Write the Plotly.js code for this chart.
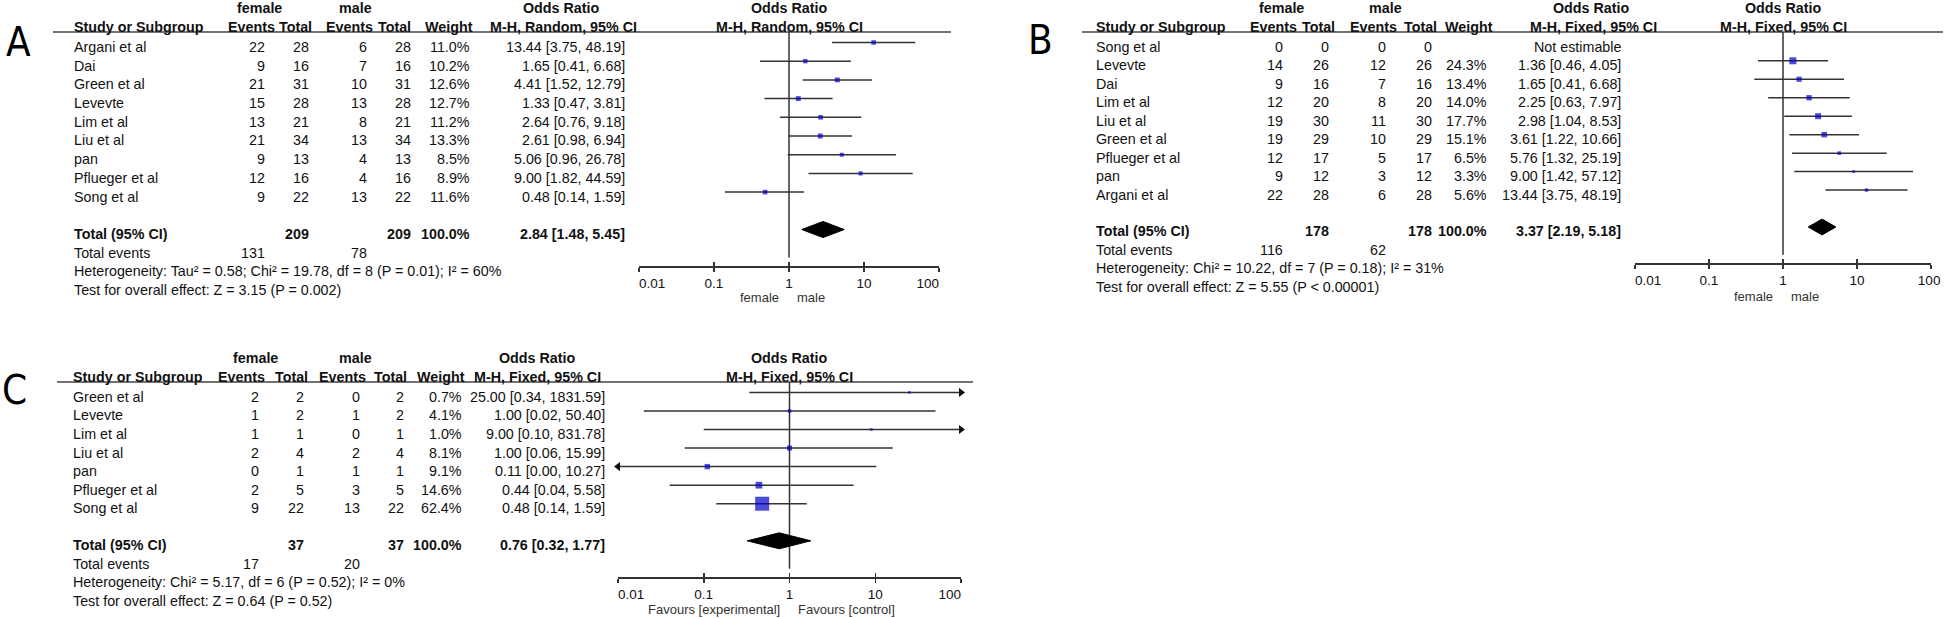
<!DOCTYPE html>
<html>
<head>
<meta charset="utf-8">
<script src="https://cdn.plot.ly/plotly-3.0.1.min.js"></script>
<style>
  html, body { margin: 0; padding: 0; background: #fff; }
  #chart { width: 1946px; height: 618px; }
</style>
</head>
<body>
<div id="chart"></div>
<script>
const W = 1946, H = 618;
const FONT = 'Liberation Sans, Arial, Helvetica, sans-serif';
const LETTER_FONT = 'Liberation Sans Narrow, Arial Narrow, DejaVu Sans Condensed, Liberation Sans, sans-serif';
const INK = '#111';
const LINE = '#333';
const BLUE = '#0000c8';
const SIZE = 14.3;
const NBSP = '\u00a0';

// ---- Panel A: random effects
const studiesA = ['Argani et al', 'Dai', 'Green et al', 'Levevte', 'Lim et al', 'Liu et al', 'pan', 'Pflueger et al', 'Song et al'];
const femaleEventsA = [22, 9, 21, 15, 13, 21, 9, 12, 9];
const femaleTotalA = [28, 16, 31, 28, 21, 34, 13, 16, 22];
const maleEventsA = [6, 7, 10, 13, 8, 13, 4, 4, 13];
const maleTotalA = [28, 16, 31, 28, 21, 34, 13, 16, 22];
const weightA = [11.0, 10.2, 12.6, 12.7, 11.2, 13.3, 8.5, 8.9, 11.6];
const orA = [13.44, 1.65, 4.41, 1.33, 2.64, 2.61, 5.06, 9.00, 0.48];
const lowerA = [3.75, 0.41, 1.52, 0.47, 0.76, 0.98, 0.96, 1.82, 0.14];
const upperA = [48.19, 6.68, 12.79, 3.81, 9.18, 6.94, 26.78, 44.59, 1.59];
const pooledA = [2.84, 1.48, 5.45];
const hetA = 'Heterogeneity: Tau² = 0.58; Chi² = 19.78, df = 8 (P = 0.01); I² = 60%';
const testA = 'Test for overall effect: Z = 3.15 (P = 0.002)';

// ---- Panel B: fixed effects
const studiesB = ['Song et al', 'Levevte', 'Dai', 'Lim et al', 'Liu et al', 'Green et al', 'Pflueger et al', 'pan', 'Argani et al'];
const femaleEventsB = [0, 14, 9, 12, 19, 19, 12, 9, 22];
const femaleTotalB = [0, 26, 16, 20, 30, 29, 17, 12, 28];
const maleEventsB = [0, 12, 7, 8, 11, 10, 5, 3, 6];
const maleTotalB = [0, 26, 16, 20, 30, 29, 17, 12, 28];
const weightB = [null, 24.3, 13.4, 14.0, 17.7, 15.1, 6.5, 3.3, 5.6];
const orB = [null, 1.36, 1.65, 2.25, 2.98, 3.61, 5.76, 9.00, 13.44];
const lowerB = [null, 0.46, 0.41, 0.63, 1.04, 1.22, 1.32, 1.42, 3.75];
const upperB = [null, 4.05, 6.68, 7.97, 8.53, 10.66, 25.19, 57.12, 48.19];
const pooledB = [3.37, 2.19, 5.18];
const hetB = 'Heterogeneity: Chi² = 10.22, df = 7 (P = 0.18); I² = 31%';
const testB = 'Test for overall effect: Z = 5.55 (P < 0.00001)';

// ---- Panel C: fixed effects
const studiesC = ['Green et al', 'Levevte', 'Lim et al', 'Liu et al', 'pan', 'Pflueger et al', 'Song et al'];
const femaleEventsC = [2, 1, 1, 2, 0, 2, 9];
const femaleTotalC = [2, 2, 1, 4, 1, 5, 22];
const maleEventsC = [0, 1, 0, 2, 1, 3, 13];
const maleTotalC = [2, 2, 1, 4, 1, 5, 22];
const weightC = [0.7, 4.1, 1.0, 8.1, 9.1, 14.6, 62.4];
const orC = [25.00, 1.00, 9.00, 1.00, 0.11, 0.44, 0.48];
const lowerC = [0.34, 0.02, 0.10, 0.06, 0.00, 0.04, 0.14];
const upperC = [1831.59, 50.40, 831.78, 15.99, 10.27, 5.58, 1.59];
const pooledC = [0.76, 0.32, 1.77];
const hetC = 'Heterogeneity: Chi² = 5.17, df = 6 (P = 0.52); I² = 0%';
const testC = 'Test for overall effect: Z = 0.64 (P = 0.52)';

const tickValues = [0.01, 0.1, 1, 10, 100];
const tickLabels = ['0.01', '0.1', '1', '10', '100'];
const headerCols = ['Events', 'Total', 'Events', 'Total', 'Weight'];

const panels = [
  {
    letter: 'A', method: 'M-H, Random, 95% CI', left: 'female', right: 'male',
    studies: studiesA, fe: femaleEventsA, ft: femaleTotalA, me: maleEventsA, mt: maleTotalA,
    w: weightA, or: orA, lo: lowerA, hi: upperA, pooled: pooledA, het: hetA, test: testA,
    geo: { letterX: 18, letterY: 42, ruleY: 32, ruleX0: 53, ruleX1: 951, plotX0: 639, plotX1: 939,
           axisY: 266, labelY: 298, studyX: 72, cols: [267, 311, 369, 413, 472, 627],
           groups: [259, 355, 561], heads: [251, 295, 349, 394, 449, 563], box: 5, endPad: 6 }
  },
  {
    letter: 'B', method: 'M-H, Fixed, 95% CI', left: 'female', right: 'male',
    studies: studiesB, fe: femaleEventsB, ft: femaleTotalB, me: maleEventsB, mt: maleTotalB,
    w: weightB, or: orB, lo: lowerB, hi: upperB, pooled: pooledB, het: hetB, test: testB,
    geo: { letterX: 1040, letterY: 40, ruleY: 32, ruleX0: 1082, ruleX1: 1943, plotX0: 1635, plotX1: 1931,
           axisY: 263, labelY: 296, studyX: 1094, cols: [1285, 1331, 1388, 1434, 1489, 1623],
           groups: [1281, 1385, 1591], heads: [1273, 1318, 1373, 1420, 1469, 1593], box: 7, endPad: 1 }
  },
  {
    letter: 'C', method: 'M-H, Fixed, 95% CI', left: 'Favours [experimental]', right: 'Favours [control]',
    studies: studiesC, fe: femaleEventsC, ft: femaleTotalC, me: maleEventsC, mt: maleTotalC,
    w: weightC, or: orC, lo: lowerC, hi: upperC, pooled: pooledC, het: hetC, test: testC,
    geo: { letterX: 14, letterY: 390, ruleY: 382, ruleX0: 57, ruleX1: 973, plotX0: 618, plotX1: 961,
           axisY: 577, labelY: 609, studyX: 71, cols: [261, 306, 362, 406, 464, 607],
           groups: [255, 355, 537], heads: [241, 291, 342, 390, 441, 537], box: 14, endPad: 6 }
  }
];

function sum(arr) { return arr.reduce((a, b) => a + b, 0); }

function ciText(or, lo, hi) {
  return or.toFixed(2) + ' [' + lo.toFixed(2) + ', ' + hi.toFixed(2) + ']';
}

// end labels sit inside the axis, as RevMan draws them
function axisLabels(endPad) {
  return tickLabels.map((t, i) => {
    if (i === 0) return NBSP.repeat(7) + t;
    if (i === tickLabels.length - 1) return t + NBSP.repeat(endPad);
    return t;
  });
}

// text placed in page pixels
function label(x, y, text, anchor, opts) {
  opts = opts || {};
  return {
    xref: 'paper', yref: 'paper', x: x / W, y: 1 - y / H,
    text: opts.bold ? '<b>' + text + '</b>' : text,
    xanchor: anchor, yanchor: 'middle', showarrow: false,
    font: { family: opts.family || FONT, size: opts.size || SIZE, color: opts.color || INK }
  };
}

let traces = [];
let annotations = [];
let shapes = [];
let layout = {
  width: W, height: H,
  margin: { l: 0, r: 0, t: 0, b: 0 },
  paper_bgcolor: '#fff', plot_bgcolor: 'rgba(0,0,0,0)',
  showlegend: false,
  font: { family: FONT, size: SIZE, color: INK }
};

panels.forEach((p, k) => {
  const g = p.geo;
  const n = p.studies.length;
  const xa = k === 0 ? 'x' : 'x' + (k + 1);
  const ya = k === 0 ? 'y' : 'y' + (k + 1);
  const tickAxis = 'x' + (k + 4);
  const yTop = -0.56, yBottom = n + 2.95;
  const step = (g.axisY - g.ruleY) / (yBottom - yTop);
  // pixel row of the text for row index i
  const rowY = i => g.ruleY + (i - yTop) * step + 4.5;

  layout['xaxis' + (k === 0 ? '' : k + 1)] = {
    domain: [g.plotX0 / W, g.plotX1 / W], anchor: ya, type: 'log', range: [-2, 2],
    tickvals: tickValues, ticktext: axisLabels(g.endPad), ticks: 'outside', ticklen: 4, tickwidth: 1.5,
    tickcolor: LINE, showline: true, linecolor: LINE, linewidth: 1.5,
    showgrid: false, zeroline: false, fixedrange: true, ticklabeloverflow: 'allow',
    tickfont: { family: FONT, size: 13.5, color: INK }
  };
  // second copy of the axis carrying the upward half of each tick
  layout['xaxis' + (k + 4)] = {
    domain: [g.plotX0 / W, g.plotX1 / W], anchor: ya, overlaying: xa, type: 'log', range: [-2, 2],
    tickvals: tickValues, ticks: 'inside', ticklen: 4, tickwidth: 1.5, tickcolor: LINE,
    showticklabels: false, showline: false, showgrid: false, zeroline: false, fixedrange: true
  };
  layout['yaxis' + (k === 0 ? '' : k + 1)] = {
    domain: [1 - g.axisY / H, 1 - g.ruleY / H], anchor: xa, range: [yBottom, yTop],
    visible: false, showgrid: false, zeroline: false, fixedrange: true
  };
  traces.push({ type: 'scatter', x: [], y: [], xaxis: tickAxis, yaxis: ya, hoverinfo: 'skip' });

  // line of no effect
  traces.push({
    type: 'scatter', mode: 'lines', x: [1, 1], y: [yTop, n + 2.5], xaxis: xa, yaxis: ya,
    line: { color: LINE, width: 1.5 }, hoverinfo: 'skip'
  });

  // confidence intervals, boxes and arrows
  let cx = [], cy = [], mx = [], my = [], ms = [], ax = [], ay = [], asym = [];
  const wMax = Math.max(...p.w.filter(v => v !== null));
  p.studies.forEach((s, i) => {
    if (p.or[i] === null) return;
    cx.push(Math.max(p.lo[i], 0.01), Math.min(p.hi[i], 100), null);
    cy.push(i, i, null);
    mx.push(p.or[i]);
    my.push(i);
    ms.push(Math.max(2.5, g.box * Math.sqrt(p.w[i] / wMax)));
    if (p.hi[i] > 100) { ax.push(100); ay.push(i); asym.push('triangle-right'); }
    if (p.lo[i] < 0.01) { ax.push(0.01); ay.push(i); asym.push('triangle-left'); }
  });
  traces.push({
    type: 'scatter', mode: 'lines', x: cx, y: cy, xaxis: xa, yaxis: ya,
    line: { color: LINE, width: 1.5 }, hoverinfo: 'skip'
  });
  traces.push({
    type: 'scatter', mode: 'markers', x: mx, y: my, xaxis: xa, yaxis: ya,
    marker: { symbol: 'square', size: ms, color: BLUE, line: { width: 0 } }, hoverinfo: 'x'
  });
  if (ax.length) {
    traces.push({
      type: 'scatter', mode: 'markers', x: ax, y: ay, xaxis: xa, yaxis: ya, cliponaxis: false,
      marker: { symbol: asym, size: 8, color: INK }, hoverinfo: 'skip'
    });
  }

  // pooled diamond
  const t = n + 1;
  traces.push({
    type: 'scatter', mode: 'lines', fill: 'toself', fillcolor: '#000',
    x: [p.pooled[1], p.pooled[0], p.pooled[2], p.pooled[0], p.pooled[1]],
    y: [t, t - 0.43, t, t + 0.43, t], xaxis: xa, yaxis: ya,
    line: { color: '#000', width: 1 }, hoverinfo: 'skip'
  });

  // header rule
  shapes.push({
    type: 'line', xref: 'paper', yref: 'paper',
    x0: g.ruleX0 / W, x1: g.ruleX1 / W, y0: 1 - g.ruleY / H, y1: 1 - g.ruleY / H,
    line: { color: '#444', width: 1.5 }
  });

  // panel letter
  annotations.push(label(g.letterX, g.letterY, p.letter, 'center', { size: 40, color: '#000', family: LETTER_FONT }));

  // headers
  const h1 = g.ruleY - 24, h2 = g.ruleY - 5;
  const plotMid = (g.plotX0 + g.plotX1) / 2;
  annotations.push(label(g.groups[0], h1, 'female', 'center', { bold: true }));
  annotations.push(label(g.groups[1], h1, 'male', 'center', { bold: true }));
  annotations.push(label(g.groups[2], h1, 'Odds Ratio', 'center', { bold: true }));
  annotations.push(label(plotMid, h1, 'Odds Ratio', 'center', { bold: true }));
  annotations.push(label(g.studyX, h2, 'Study or Subgroup', 'left', { bold: true }));
  headerCols.forEach((c, j) => annotations.push(label(g.heads[j], h2, c, 'center', { bold: true })));
  annotations.push(label(g.heads[5], h2, p.method, 'center', { bold: true }));
  annotations.push(label(plotMid, h2, p.method, 'center', { bold: true }));

  // study rows
  p.studies.forEach((s, i) => {
    const y = rowY(i);
    annotations.push(label(g.studyX, y, s, 'left'));
    [p.fe[i], p.ft[i], p.me[i], p.mt[i]].forEach((v, j) =>
      annotations.push(label(g.cols[j], y, String(v), 'right')));
    if (p.w[i] !== null) annotations.push(label(g.cols[4], y, p.w[i].toFixed(1) + '%', 'right'));
    const orTxt = p.or[i] === null ? 'Not estimable' : ciText(p.or[i], p.lo[i], p.hi[i]);
    annotations.push(label(g.cols[5], y, orTxt, 'right'));
  });

  // totals and footer
  let y = rowY(n + 1);
  annotations.push(label(g.studyX, y, 'Total (95% CI)', 'left', { bold: true }));
  annotations.push(label(g.cols[1], y, String(sum(p.ft)), 'right', { bold: true }));
  annotations.push(label(g.cols[3], y, String(sum(p.mt)), 'right', { bold: true }));
  annotations.push(label(g.cols[4], y, '100.0%', 'right', { bold: true }));
  annotations.push(label(g.cols[5], y, ciText(p.pooled[0], p.pooled[1], p.pooled[2]), 'right', { bold: true }));
  y = rowY(n + 2);
  annotations.push(label(g.studyX, y, 'Total events', 'left'));
  annotations.push(label(g.cols[0], y, String(sum(p.fe)), 'right'));
  annotations.push(label(g.cols[2], y, String(sum(p.me)), 'right'));
  annotations.push(label(g.studyX, rowY(n + 3), p.het, 'left'));
  annotations.push(label(g.studyX, rowY(n + 4), p.test, 'left'));

  // axis captions either side of 1
  annotations.push(label(plotMid - 8, g.labelY, p.left, 'right', { color: '#333', size: 13 }));
  annotations.push(label(plotMid + 6, g.labelY, p.right, 'left', { color: '#333', size: 13 }));
});

layout.annotations = annotations;
layout.shapes = shapes;

Plotly.newPlot('chart', traces, layout, { staticPlot: true, displayModeBar: false });
</script>
</body>
</html>
